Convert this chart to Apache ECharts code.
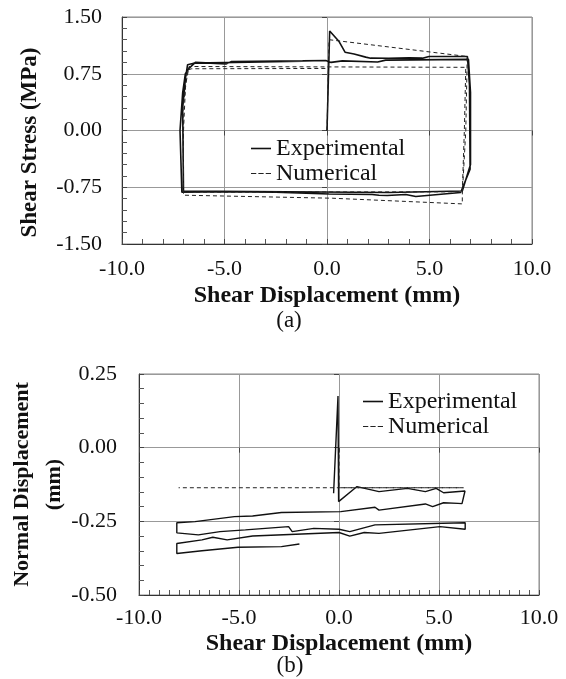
<!DOCTYPE html>
<html>
<head>
<meta charset="utf-8">
<script src="https://cdn.jsdelivr.net/npm/echarts@6/dist/echarts.min.js"></script>
<style>
  html, body { margin: 0; padding: 0; background: #fff; }
  #main { width: 566px; height: 679px; }
</style>
</head>
<body>
<div id="main"></div>
<script>
// (a) shear stress vs shear displacement
var stressExpX = [0, 0.13, 0.59, 0.88, 1.32, 1.89, 2.13, 3.0, 4.0, 4.65,
  4.98, 6.85, 6.95, 6.98, 6.52, 4.33, 3.84, 2.94, 2.54, 2.2,
  0.1, -2.5, -5.0, -7.08, -7.17, -7.04, -6.91, -6.72, -6.42, -4.93,
  -4.68, -1.19, -0.06, 0.2, 0.75, 2.47, 2.86, 6.9, 7.0, 7.0,
  6.6, 3.0, -2.0, -7.0, -7.04, -6.9, -6.8, -6.5, -1.2];
var stressExpY = [0, 1.316, 1.175, 1.035, 1.01, 0.97, 0.956, 0.955, 0.96, 0.956,
  0.978, 0.978, 0.6, -0.51, -0.82, -0.873, -0.846, -0.86, -0.855, -0.846,
  -0.84, -0.815, -0.81, -0.815, 0.0, 0.5, 0.75, 0.825, 0.9, 0.88,
  0.91, 0.92, 0.925, 0.9, 0.92, 0.905, 0.93, 0.94, 0.5, -0.45,
  -0.8, -0.82, -0.81, -0.8, 0.3, 0.7, 0.87, 0.89, 0.915];
var stressNumX = [0, 0.1, 6.84, 6.77, 6.6, 6.6, 0.26, -7.0, -7.0, -6.9,
  -6.73, 6.77, 6.7, 6.6, -7.0, -7.02, -6.8, -6.6, 0];
var stressNumY = [0, 1.2, 0.978, 0.0, -0.84, -0.97, -0.895, -0.855, 0.0, 0.6,
  0.846, 0.835, 0.0, -0.81, -0.815, 0.3, 0.8, 0.816, 0.82];

// (b) normal displacement vs shear displacement
var dispExpX = [-0.27, -0.05, -0.02, 0.9, 2.0, 3.42, 4.32, 4.86, 5.23, 6.3,
  6.15, 5.95, 5.23, 4.68, 4.32, 2.0, 1.8, 0.09, 0.0, -2.88,
  -4.32, -5.23, -7.2, -8.11, -8.11, -7.03, -5.95, -4.68, -2.52, -2.34,
  -1.26, 0.0, 0.54, 1.8, 6.31, 6.31, 5.05, 2.0, 1.26, 0.54,
  0.0, -4.32, -5.59, -6.31, -6.85, -8.11, -8.11, -6.85, -5.05, -2.88, -1.98];
var dispExpY = [-0.155, 0.175, -0.183, -0.132, -0.149, -0.138, -0.149, -0.138, -0.153, -0.147,
  -0.19, -0.189, -0.187, -0.2, -0.191, -0.212, -0.202, -0.217, -0.212, -0.22,
  -0.232, -0.234, -0.251, -0.255, -0.289, -0.296, -0.285, -0.279, -0.268, -0.285,
  -0.274, -0.277, -0.285, -0.262, -0.255, -0.277, -0.268, -0.291, -0.288, -0.3,
  -0.288, -0.3, -0.313, -0.304, -0.313, -0.325, -0.359, -0.35, -0.338, -0.336, -0.327];
var dispNumX = [0, 0, 6.22, -8.02];
var dispNumY = [0, -0.136, -0.136, -0.136];

var serif = "'Liberation Serif', 'Times New Roman', serif";
// legend glyphs: a plain dash and three short dashes
var legendItems = [
  { name: "Experimental", icon: "rect" },
  { name: "Numerical", icon: "path://M0,0h5v1h-5z M7,0h5v1h-5z M14,0h5v1h-5z" }
];

function pairs(xs, ys) {
  return xs.map(function (x, i) { return [x, ys[i]]; });
}

// main axis of a panel
function valueAxis(gridIndex, min, max, interval, minorSplit, digits, margin, name, nameGap, nameSize, namePad) {
  return {
    type: "value",
    gridIndex: gridIndex,
    min: min,
    max: max,
    interval: interval,
    axisLine: { show: true, onZero: false, lineStyle: { color: "#333", width: 1 } },
    axisTick: { show: true, inside: true, length: 5, lineStyle: { color: "#444" } },
    minorTick: { show: true, splitNumber: minorSplit, length: 5, lineStyle: { color: "#555" } },
    splitLine: { show: true, lineStyle: { color: "#999", width: 1 } },
    axisLabel: {
      color: "#111", fontFamily: serif, fontSize: 22, margin: margin,
      formatter: function (v) { return v.toFixed(digits); }
    },
    name: name,
    nameLocation: "middle",
    nameGap: nameGap,
    nameMoveOverlap: false,
    nameTextStyle: {
      color: "#111", fontFamily: serif, fontSize: nameSize, fontWeight: "bold",
      lineHeight: 32, padding: namePad || 0
    }
  };
}

// extra axis that only draws the outward part of the major ticks
function tickAxis(gridIndex, pos, min, max, interval) {
  return {
    type: "value",
    gridIndex: gridIndex,
    position: pos,
    min: min,
    max: max,
    interval: interval,
    axisLine: { show: false },
    axisTick: { show: true, inside: false, length: 5, lineStyle: { color: "#444" } },
    axisLabel: { show: false },
    splitLine: { show: false }
  };
}

function legendAt(left, top) {
  return {
    data: legendItems, orient: "vertical", left: left, top: top, padding: 0,
    itemWidth: 20, itemHeight: 1.6, itemGap: 0,
    itemStyle: { borderWidth: 0 },
    textStyle: { color: "#111", fontFamily: serif, fontSize: 24, lineHeight: 25 }
  };
}

var myChart = echarts.init(document.getElementById("main"));
myChart.setOption({
  backgroundColor: "#fff",
  animation: false,
  grid: [
    { left: 122, top: 17, width: 410, height: 227, show: true, borderColor: "#888", borderWidth: 1, outerBoundsMode: "none" },
    { left: 139, top: 374, width: 400, height: 221, show: true, borderColor: "#888", borderWidth: 1, outerBoundsMode: "none" }
  ],
  xAxis: [
    valueAxis(0, -10, 10, 5, 5, 1, 14, "Shear Displacement (mm)", 36, 24),
    valueAxis(1, -10, 10, 5, 10, 1, 12, "Shear Displacement (mm)", 33, 24),
    tickAxis(0, "bottom", -10, 10, 5),
    tickAxis(1, "bottom", -10, 10, 5)
  ],
  yAxis: [
    valueAxis(0, -1.5, 1.5, 0.75, 5, 2, 20, "Shear Stress (MPa)", 76, 23, [0, 24, 0, 0]),
    valueAxis(1, -0.5, 0.25, 0.25, 5, 2, 22, "Normal Displacement\n(mm)", 69, 22),
    tickAxis(0, "left", -1.5, 1.5, 0.75),
    tickAxis(1, "left", -0.5, 0.25, 0.25)
  ],
  legend: [legendAt(251, 136), legendAt(363, 389)],
  graphic: [
    { type: "text", x: 289, y: 321, style: { text: "(a)", fill: "#111", font: "23px " + serif, align: "center", verticalAlign: "middle" } },
    { type: "text", x: 290, y: 666, style: { text: "(b)", fill: "#111", font: "23px " + serif, align: "center", verticalAlign: "middle" } }
  ],
  series: [
    {
      name: "Experimental", type: "line", xAxisIndex: 0, yAxisIndex: 0,
      symbol: "none", color: "#111", lineStyle: { color: "#111", width: 1.6 },
      data: pairs(stressExpX, stressExpY)
    },
    {
      name: "Numerical", type: "line", xAxisIndex: 0, yAxisIndex: 0,
      symbol: "none", color: "#222", lineStyle: { color: "#222", width: 1, type: [4, 3] },
      data: pairs(stressNumX, stressNumY)
    },
    {
      name: "Experimental", type: "line", xAxisIndex: 1, yAxisIndex: 1,
      symbol: "none", color: "#111", lineStyle: { color: "#111", width: 1.4 },
      data: pairs(dispExpX, dispExpY)
    },
    {
      name: "Numerical", type: "line", xAxisIndex: 1, yAxisIndex: 1,
      symbol: "none", color: "#222", lineStyle: { color: "#222", width: 1, type: [4, 3] },
      data: pairs(dispNumX, dispNumY)
    }
  ]
});
</script>
</body>
</html>
